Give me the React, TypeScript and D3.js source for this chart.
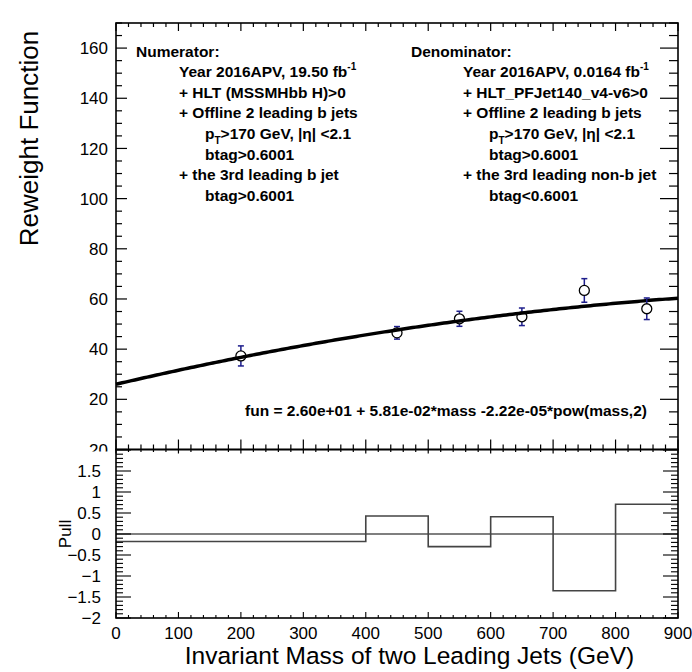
import React from "react";
import * as d3 from "d3";

// ---------- data ----------
const massPoints = [200, 450, 550, 650, 750, 850];
const reweightValues = [37.3, 46.5, 52.1, 52.9, 63.4, 56.1];
const reweightErrors = [4.0, 2.5, 3.0, 3.5, 4.7, 4.3];
const fitCoefficients = [26.0, 5.81e-2, -2.22e-5];
const pullEdges = [0, 400, 500, 600, 700, 800, 900];
const pullValues = [-0.18, 0.43, -0.3, 0.41, -1.35, 0.71];
const topYTicks = [20, 40, 60, 80, 100, 120, 140, 160];
const pullYTicks = [-2, -1.5, -1, -0.5, 0, 0.5, 1, 1.5];
const xTicks = [0, 100, 200, 300, 400, 500, 600, 700, 800, 900];

const numeratorLines = [
  { indent: 0, text: "Numerator:" },
  { indent: 1, text: "Year 2016APV, 19.50 fb", sup: "-1" },
  { indent: 1, text: "+ HLT (MSSMHbb H)>0" },
  { indent: 1, text: "+ Offline 2 leading b jets" },
  { indent: 2, pt: true, text: ">170 GeV, |η| <2.1" },
  { indent: 2, text: "btag>0.6001" },
  { indent: 1, text: "+ the 3rd leading b jet" },
  { indent: 2, text: "btag>0.6001" },
];
const denominatorLines = [
  { indent: 0, text: "Denominator:" },
  { indent: 1, text: "Year 2016APV, 0.0164 fb", sup: "-1" },
  { indent: 1, text: "+ HLT_PFJet140_v4-v6>0" },
  { indent: 1, text: "+ Offline 2 leading b jets" },
  { indent: 2, pt: true, text: ">170 GeV, |η| <2.1" },
  { indent: 2, text: "btag>0.6001" },
  { indent: 1, text: "+ the 3rd leading non-b jet" },
  { indent: 2, text: "btag<0.6001" },
];
const fitLabel = "fun = 2.60e+01 + 5.81e-02*mass -2.22e-05*pow(mass,2)";

// ---------- layout ----------
const W = 692;
const H = 672;
const L = 116;
const R = 678;
const TOP = 23;
const MID = 449.5;
const BOT = 618;
const FONT = "'Liberation Sans', Arial, Helvetica, sans-serif";

const x = d3.scaleLinear().domain([0, 900]).range([L, R]);
const yTop = d3.scaleLinear().domain([0, 170]).range([MID, TOP]);
const yPull = d3.scaleLinear().domain([-2, 2]).range([BOT, MID + 0.5]);

const fitFn = (m: number) =>
  fitCoefficients[0] + fitCoefficients[1] * m + fitCoefficients[2] * m * m;

const fmt = (v: number) => (v < 0 ? "\u2212" + String(-v) : String(v));

function Annotation({ lines, x0, x1, x2, y0 }: any) {
  const dy = 20.6;
  return (
    <g fontFamily={FONT} fontWeight="bold" fontSize={15.5} fill="#000">
      {lines.map((ln: any, i: number) => {
        const xx = ln.indent === 0 ? x0 : ln.indent === 1 ? x1 : x2;
        const yy = y0 + i * dy;
        if (ln.pt) {
          return (
            <text key={i} x={xx} y={yy}>
              p
              <tspan fontSize={10} dy={5}>T</tspan>
              <tspan dy={-5}>{ln.text}</tspan>
            </text>
          );
        }
        return (
          <text key={i} x={xx} y={yy}>
            {ln.text}
            {ln.sup ? (
              <tspan fontSize={10} dy={-7}>{ln.sup}</tspan>
            ) : null}
          </text>
        );
      })}
    </g>
  );
}

export default function App() {
  const curve = d3
    .line<number>()
    .x((m) => x(m))
    .y((m) => yTop(fitFn(m)))(d3.range(0, 900.1, 5));

  // pull step path
  const stepPts: [number, number][] = [];
  pullValues.forEach((v, i) => {
    stepPts.push([pullEdges[i], v]);
    stepPts.push([pullEdges[i + 1], v]);
  });
  const stepPath = d3
    .line<[number, number]>()
    .x((d) => x(d[0]))
    .y((d) => yPull(d[1]))(stepPts);

  const topMinor = d3.range(0, 170.01, 5);
  const pullMinor = d3.range(-2, 2.001, 0.1).map((v) => Math.round(v * 10) / 10);
  const xMinor = d3.range(0, 900.1, 20);

  const tick = "#000";

  return (
    <svg
      width={W}
      height={H}
      style={{ position: "absolute", left: 0, top: 0, background: "#fff" }}
    >
      <rect x={0} y={0} width={W} height={H} fill="#fff" />
      <defs>
        <clipPath id="zeroClip">
          <rect x={80} y={440} width={35} height={11.5} />
        </clipPath>
      </defs>

      {/* ---------------- upper panel ---------------- */}
      {topMinor.map((v) => {
        const major = v % 20 === 0;
        const yy = yTop(v);
        return (
          <g key={"ty" + v} stroke={tick} strokeWidth={1.2}>
            <line x1={L} x2={L + (major ? 11 : 6)} y1={yy} y2={yy} />
            <line x1={R} x2={R - (major ? 18 : 9)} y1={yy} y2={yy} />
          </g>
        );
      })}
      {xMinor.map((v) => {
        const major = v % 100 === 0;
        const xx = x(v);
        return (
          <g key={"tx" + v} stroke={tick} strokeWidth={1.2}>
            <line x1={xx} x2={xx} y1={TOP} y2={TOP + (major ? 8 : 4)} />
            <line x1={xx} x2={xx} y1={MID - (major ? 10 : 5)} y2={MID + (major ? 4 : 2.5)} />
          </g>
        );
      })}
      <g fontFamily={FONT} fontSize={17} fill="#000" textAnchor="end">
        {topYTicks.map((v) => (
          <text key={"tl" + v} x={108} y={yTop(v)} dy="0.36em">
            {v}
          </text>
        ))}
      </g>
      {/* clipped labels at the pad junction */}
      <g fontFamily={FONT} fontSize={17} fill="#000" textAnchor="end" clipPath="url(#zeroClip)">
        <text x={108} y={MID} dy="0.36em">20</text>
      </g>

      {/* fit curve */}
      <path d={curve || ""} fill="none" stroke="#000" strokeWidth={3.5} />

      {/* data points */}
      {massPoints.map((m, i) => {
        const cx = x(m);
        const cy = yTop(reweightValues[i]);
        const yHi = yTop(reweightValues[i] + reweightErrors[i]);
        const yLo = yTop(reweightValues[i] - reweightErrors[i]);
        const r = 5;
        return (
          <g key={"p" + i}>
            <g stroke="#1e1e8c" strokeWidth={1.5}>
              {yHi < cy - r ? <line x1={cx} x2={cx} y1={yHi} y2={cy - r} /> : null}
              {yLo > cy + r ? <line x1={cx} x2={cx} y1={cy + r} y2={yLo} /> : null}
              <line x1={cx - 3} x2={cx + 3} y1={yHi} y2={yHi} />
              <line x1={cx - 3} x2={cx + 3} y1={yLo} y2={yLo} />
            </g>
            <circle cx={cx} cy={cy} r={r} fill="none" stroke="#000" strokeWidth={1.3} />
          </g>
        );
      })}

      <Annotation lines={numeratorLines} x0={136} x1={179} x2={205} y0={56.5} />
      <Annotation lines={denominatorLines} x0={411} x1={463} x2={489} y0={56.5} />

      <text x={245} y={416} fontFamily={FONT} fontWeight="bold" fontSize={15.5} fill="#000">
        {fitLabel}
      </text>

      <text
        transform={`translate(38,${(TOP + 250) / 2 + 2}) rotate(-90)`}
        textAnchor="middle"
        fontFamily={FONT}
        fontSize={26}
        fill="#000"
      >
        Reweight Function
      </text>

      <rect x={L} y={TOP} width={R - L} height={MID - TOP} fill="none" stroke="#000" strokeWidth={1.6} />

      {/* ---------------- lower panel ---------------- */}
      {pullMinor.map((v) => {
        const major = Math.abs((v * 2) % 1) < 1e-6;
        const len = major ? 15 : 7;
        const yy = yPull(v);
        return (
          <g key={"py" + v} stroke={tick} strokeWidth={1.1}>
            <line x1={L} x2={L + len} y1={yy} y2={yy} />
            <line x1={R} x2={R - len} y1={yy} y2={yy} />
          </g>
        );
      })}
      {xMinor.map((v) => {
        const major = v % 100 === 0;
        const xx = x(v);
        return (
          <g key={"bx" + v} stroke={tick} strokeWidth={1.1}>
            <line x1={xx} x2={xx} y1={BOT} y2={BOT - (major ? 6 : 3)} />
          </g>
        );
      })}

      <line x1={L} x2={R} y1={yPull(0)} y2={yPull(0)} stroke="#000" strokeWidth={1.2} />
      <path d={stepPath || ""} fill="none" stroke="#444" strokeWidth={1.6} />

      <g fontFamily={FONT} fontSize={17} fill="#000" textAnchor="end">
        {pullYTicks.map((v) => (
          <text key={"pl" + v} x={101} y={yPull(v)} dy="0.36em">
            {fmt(v)}
          </text>
        ))}
      </g>
      <g fontFamily={FONT} fontSize={17} fill="#000" textAnchor="middle">
        {xTicks.map((v) => (
          <text key={"xl" + v} x={x(v)} y={639}>
            {v}
          </text>
        ))}
      </g>

      <text
        transform={`translate(71,${yPull(0)}) rotate(-90)`}
        textAnchor="middle"
        fontFamily={FONT}
        fontSize={17}
        fill="#000"
      >
        Pull
      </text>
      <text
        x={(183 + 636) / 2}
        y={664}
        textAnchor="middle"
        fontFamily={FONT}
        fontSize={24.5}
        fill="#000"
      >
        Invariant Mass of two Leading Jets (GeV)
      </text>

      <rect x={L} y={MID} width={R - L} height={BOT - MID} fill="none" stroke="#000" strokeWidth={1.6} />
    </svg>
  );
}
